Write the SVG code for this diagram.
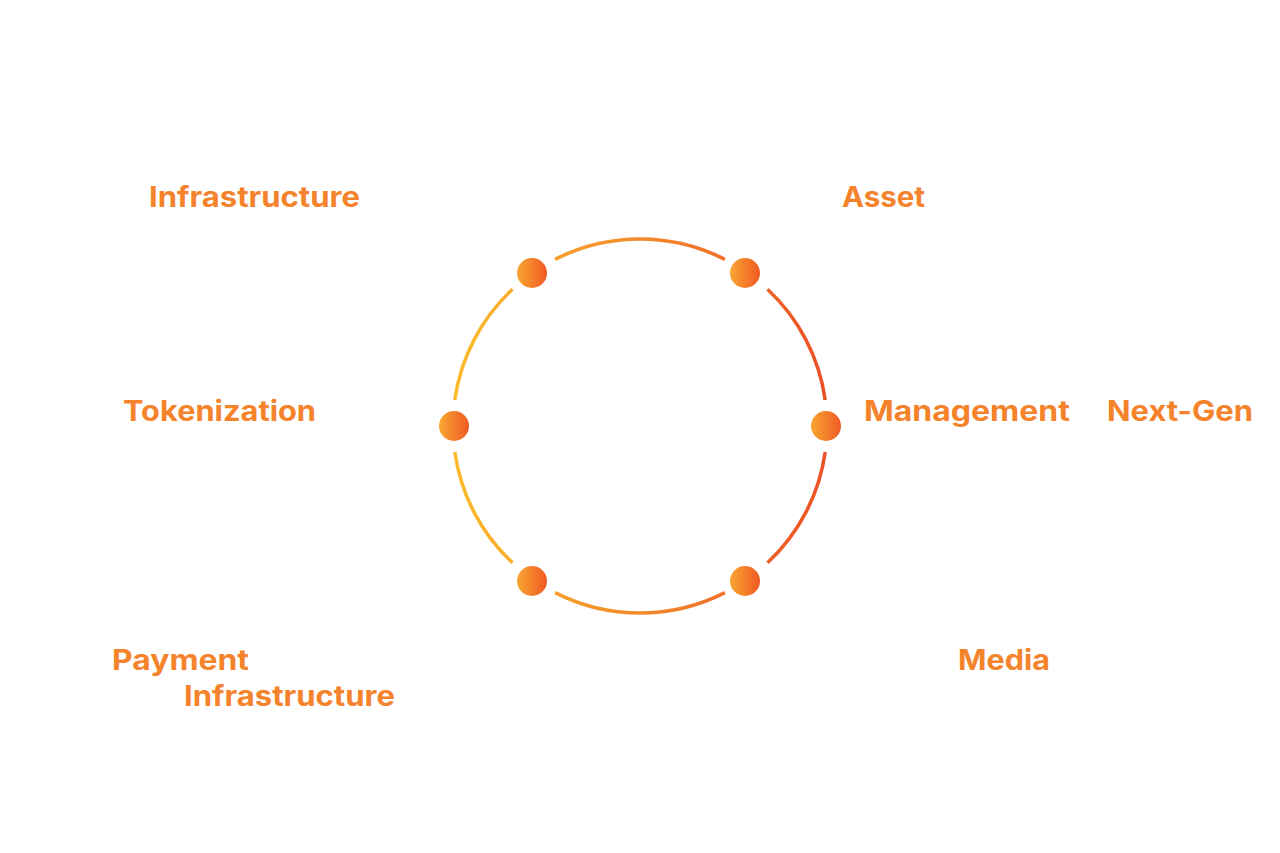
<svg xmlns="http://www.w3.org/2000/svg" width="1280" height="853" viewBox="0 0 1280 853">
  <defs>
    <linearGradient id="ringGrad" gradientUnits="userSpaceOnUse" x1="453" y1="0" x2="827" y2="0">
      <stop offset="0" stop-color="#FCBA2A"/>
      <stop offset="0.5" stop-color="#F4892C"/>
      <stop offset="1" stop-color="#EC5025"/>
    </linearGradient>
    <linearGradient id="dotGrad" x1="0" y1="0" x2="1" y2="0">
      <stop offset="0" stop-color="#F9A633"/>
      <stop offset="1" stop-color="#EF5A24"/>
    </linearGradient>
    <style>
      .lbl { font-family: "Inter", "Open Sans", "Liberation Sans", sans-serif; font-weight: 700; font-size: 28px; fill: #F5832B; }
      .arc { fill: none; stroke: url(#ringGrad); stroke-width: 3.5; }
      .dot { fill: url(#dotGrad); }
    </style>
  </defs>
  <rect width="1280" height="853" fill="#FFFFFF"/>

  <g id="connectors">
    <path class="arc" d="M825.2,400 A187,187 0 0 0 767.5,289.2"/>
    <path class="arc" d="M724.9,259.4 A187,187 0 0 0 555.1,259.4"/>
    <path class="arc" d="M512.5,289.2 A187,187 0 0 0 454.8,400"/>
    <path class="arc" d="M454.8,452 A187,187 0 0 0 512.5,562.8"/>
    <path class="arc" d="M555.1,592.6 A187,187 0 0 0 724.9,592.6"/>
    <path class="arc" d="M767.5,562.8 A187,187 0 0 0 825.2,452"/>
  </g>

  <g id="node-right"><circle class="dot" cx="826" cy="426" r="15"/></g>
  <g id="node-top-right"><circle class="dot" cx="745" cy="273" r="15"/></g>
  <g id="node-top-left"><circle class="dot" cx="532" cy="273" r="15"/></g>
  <g id="node-left"><circle class="dot" cx="454" cy="426" r="15"/></g>
  <g id="node-bottom-left"><circle class="dot" cx="532" cy="581" r="15"/></g>
  <g id="node-bottom-right"><circle class="dot" cx="745" cy="581" r="15"/></g>

  <g id="label-infrastructure"><text class="lbl" x="149" y="207" textLength="211" lengthAdjust="spacingAndGlyphs">Infrastructure</text></g>
  <g id="label-asset"><text class="lbl" x="842" y="207" textLength="83" lengthAdjust="spacingAndGlyphs">Asset</text></g>
  <g id="label-tokenization"><text class="lbl" x="123" y="421" textLength="193" lengthAdjust="spacingAndGlyphs">Tokenization</text></g>
  <g id="label-management"><text class="lbl" x="864" y="421" textLength="206" lengthAdjust="spacingAndGlyphs">Management</text></g>
  <g id="label-nextgen"><text class="lbl" x="1107" y="421" textLength="146" lengthAdjust="spacingAndGlyphs">Next-Gen</text></g>
  <g id="label-media"><text class="lbl" x="958" y="670" textLength="92" lengthAdjust="spacingAndGlyphs">Media</text></g>
  <g id="label-payment">
    <text class="lbl" x="112" y="670" textLength="137" lengthAdjust="spacingAndGlyphs">Payment</text>
    <text class="lbl" x="184" y="706" textLength="211" lengthAdjust="spacingAndGlyphs">Infrastructure</text>
  </g>
</svg>
